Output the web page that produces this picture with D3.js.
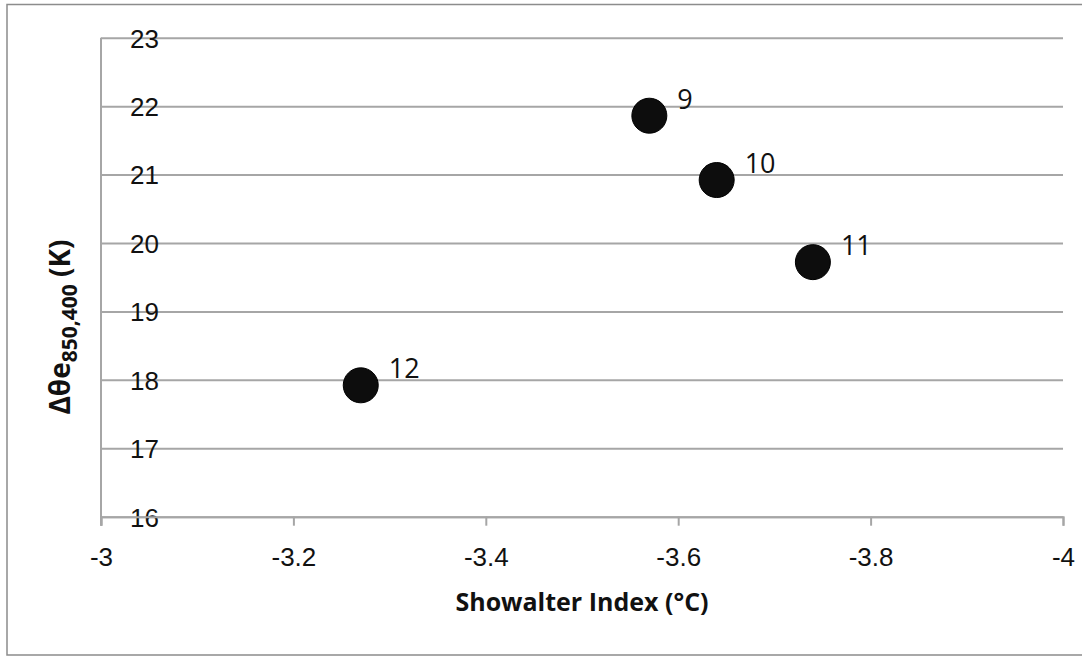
<!DOCTYPE html>
<html>
<head>
<meta charset="utf-8">
<script src="https://cdn.jsdelivr.net/npm/d3@7"></script>
<style>
    body { margin: 0; background: #fff; }
    svg { display: block; font-family: "Open Sans", sans-serif; }
</style>
</head>
<body>
<svg id="chart" width="1082" height="656"></svg>
<script>
// data
var showalter = [-3.57, -3.64, -3.74, -3.27];
var deltaTheta = [21.86, 20.92, 19.72, 17.92];
var pointLabels = ["9", "10", "11", "12"];

var xTicks = [-3, -3.2, -3.4, -3.6, -3.8, -4];
var xTickLabels = ["-3", "-3.2", "-3.4", "-3.6", "-3.8", "-4"];
var yTicks = [16, 17, 18, 19, 20, 21, 22, 23];
var yTickLabels = ["16", "17", "18", "19", "20", "21", "22", "23"];

function drawChart() {
    var svg = d3.select("#chart");
    var left = 101, right = 1063, top = 37.7, bottom = 516.7;
    var gridColor = "#a6a6a6";

    // outer frame
    svg.append("path")
        .attr("d", "M1090,4.5 H7 V655 H1090")
        .attr("fill", "none")
        .attr("stroke", "#8c8c8c")
        .attr("stroke-width", 1.5);

    var x = d3.scaleLinear().domain([-3, -4]).range([left, right]);
    var y = d3.scaleLinear().domain([16, 23]).range([bottom, top]);

    // horizontal gridlines + y labels (labels sit right of the axis, like the original)
    var yAxis = svg.append("g")
        .attr("transform", "translate(" + left + ",0)")
        .call(d3.axisLeft(y)
            .tickValues(yTicks)
            .tickFormat(function(d, i) { return yTickLabels[i]; })
            .tickSize(-(right - left))
            .tickSizeOuter(0));
    yAxis.select(".domain").remove();
    yAxis.selectAll(".tick line")
        .attr("stroke", gridColor)
        .attr("stroke-width", 2);
    yAxis.selectAll(".tick text")
        .attr("x", 58)
        .attr("dy", "0.36em")
        .attr("text-anchor", "end")
        .attr("fill", "#111")
        .style("font-size", "26px");

    // y axis line
    svg.append("line")
        .attr("x1", left).attr("x2", left)
        .attr("y1", y(23)).attr("y2", y(16) + 9)
        .attr("stroke", gridColor)
        .attr("stroke-width", 2);

    // x axis
    var xAxis = svg.append("g")
        .attr("transform", "translate(0," + bottom + ")")
        .call(d3.axisBottom(x)
            .tickValues(xTicks)
            .tickFormat(function(d, i) { return xTickLabels[i]; })
            .tickSize(9)
            .tickSizeOuter(9));
    xAxis.select(".domain")
        .attr("stroke", gridColor)
        .attr("stroke-width", 2);
    xAxis.selectAll(".tick line")
        .attr("stroke", gridColor)
        .attr("stroke-width", 2);
    xAxis.selectAll(".tick text")
        .attr("y", 49)
        .attr("dy", 0)
        .attr("fill", "#111")
        .style("font-size", "26px");

    // axis titles
    svg.append("text")
        .attr("x", (left + right) / 2)
        .attr("y", 611)
        .attr("text-anchor", "middle")
        .attr("font-weight", "bold")
        .attr("fill", "#111")
        .style("font-size", "25px")
        .text("Showalter Index (°C)");

    var yTitle = svg.append("text")
        .attr("transform", "translate(70,327) rotate(-90)")
        .attr("text-anchor", "middle")
        .attr("font-weight", "bold")
        .attr("fill", "#111")
        .style("font-size", "28px");
    yTitle.append("tspan").text("Δθe");
    yTitle.append("tspan")
        .attr("dy", 7)
        .style("font-size", "21px")
        .text("850,400");
    yTitle.append("tspan")
        .attr("dy", -7)
        .text(" (K)");

    // points
    var idx = d3.range(showalter.length);
    svg.append("g").selectAll("circle")
        .data(idx)
        .join("circle")
        .attr("cx", function(i) { return x(showalter[i]); })
        .attr("cy", function(i) { return y(deltaTheta[i]); })
        .attr("r", 17.5)
        .attr("fill", "#0d0d0d")
        .attr("stroke", "#000")
        .attr("stroke-width", 1);

    svg.append("g").selectAll("text")
        .data(idx)
        .join("text")
        .attr("x", function(i) { return x(showalter[i]) + 28; })
        .attr("y", function(i) { return y(deltaTheta[i]) - 7; })
        .attr("fill", "#111")
        .style("font-size", "27px")
        .text(function(i) { return pointLabels[i]; });
}

window.addEventListener("load", function() {
    drawChart();
});
</script>
</body>
</html>
